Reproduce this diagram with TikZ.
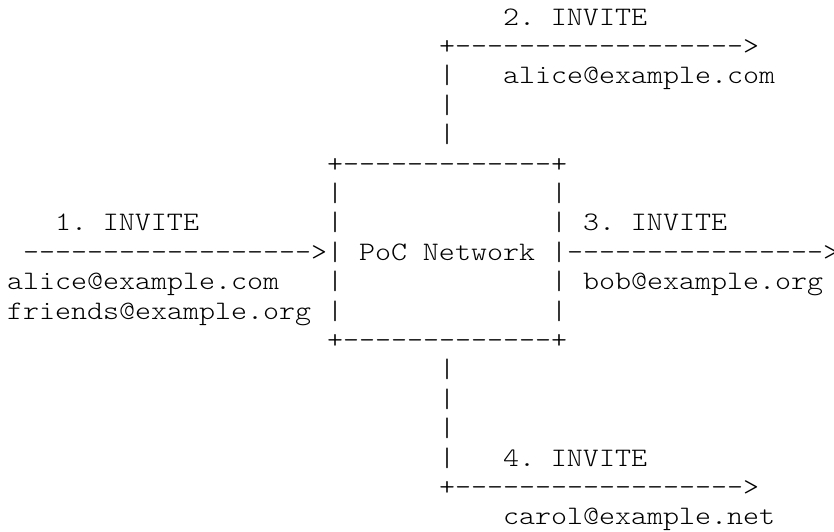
\documentclass[tikz,border=0pt]{standalone}
\usepackage{fontspec}
\setmonofont{Latin Modern Mono Light}[FakeStretch=1.143]
\tikzset{
  txt/.style={anchor=base west, inner sep=0pt, outer sep=0pt,
    font=\fontsize{26.67}{29.4}\selectfont\ttfamily, text=black}
}
\newcommand\seg[4]{\node[txt] (#1) at ({7+#2*16},{25+#3*29.4}) {#4};}
\begin{document}
\begin{tikzpicture}[x=1pt,y=-1pt]
\useasboundingbox[fill=white] (0,0) rectangle (834,531);
% line 0-4: INVITE 2
\seg{lblTwo}{31}{0}{2. INVITE}
\seg{arrTwo}{27}{1}{+------------------>}
\seg{vTwoA}{27}{2}{|}
\seg{addrTwo}{31}{2}{alice@example.com}
\seg{vTwoB}{27}{3}{|}
\seg{vTwoC}{27}{4}{|}
% box top
\seg{boxTop}{20}{5}{+-------------+}
\seg{boxLA}{20}{6}{|}
\seg{boxRA}{34}{6}{|}
% line 7
\seg{lblOne}{3}{7}{1. INVITE}
\seg{boxLB}{20}{7}{|}
\seg{boxRB}{34}{7}{|}
\seg{lblThree}{36}{7}{3. INVITE}
% line 8
\seg{arrOne}{1}{8}{------------------>}
\seg{boxLC}{20}{8}{|}
\seg{poc}{22}{8}{PoC Network}
\seg{boxRC}{34}{8}{|}
\seg{arrThree}{35}{8}{---------------->}
% line 9
\seg{addrOneA}{0}{9}{alice@example.com}
\seg{boxLD}{20}{9}{|}
\seg{boxRD}{34}{9}{|}
\seg{addrThree}{36}{9}{bob@example.org}
% line 10
\seg{addrOneB}{0}{10}{friends@example.org}
\seg{boxLE}{20}{10}{|}
\seg{boxRE}{34}{10}{|}
% box bottom
\seg{boxBot}{20}{11}{+-------------+}
% INVITE 4
\seg{vFourA}{27}{12}{|}
\seg{vFourB}{27}{13}{|}
\seg{vFourC}{27}{14}{|}
\seg{vFourD}{27}{15}{|}
\seg{lblFour}{31}{15}{4. INVITE}
\seg{arrFour}{27}{16}{+------------------>}
\seg{addrFour}{31}{17}{carol@example.net}
\end{tikzpicture}
\end{document}
